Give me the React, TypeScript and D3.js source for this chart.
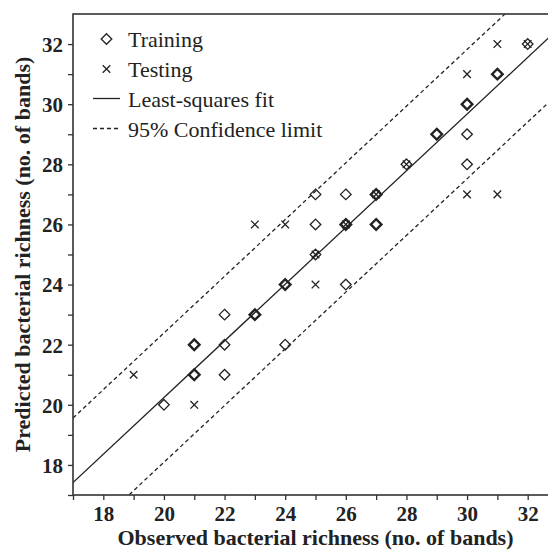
// Scatter of observed vs predicted bacterial richness with least-squares fit and 95% limits
import React, { useEffect, useRef } from 'react';
import * as d3 from 'd3';

// training points (repeated entries = overlapping samples)
const trainObserved = [20, 21, 21, 21, 21, 22, 22, 22, 23, 23, 24, 24, 24, 25, 25, 25, 26, 26, 26, 26, 27, 27, 27, 27, 28, 29, 29, 30, 30, 30, 30, 31, 31, 32];
const trainPredicted = [20, 21, 21, 22, 22, 21, 22, 23, 23, 23, 22, 24, 24, 25, 26, 27, 24, 26, 26, 27, 26, 26, 27, 27, 28, 29, 29, 28, 29, 30, 30, 31, 31, 32];

const testObserved = [19, 21, 23, 24, 25, 25, 26, 27, 28, 30, 30, 31, 31, 32];
const testPredicted = [21, 20, 26, 26, 24, 25, 26, 27, 28, 27, 31, 27, 32, 32];

const fitSlope = 0.943;
const fitIntercept = 1.38;
const confOffset = 2.15;

const xTicks = [17, 18, 19, 20, 21, 22, 23, 24, 25, 26, 27, 28, 29, 30, 31, 32, 33];
const yTicks = [17, 18, 19, 20, 21, 22, 23, 24, 25, 26, 27, 28, 29, 30, 31, 32];

const legendItems = ['Training', 'Testing', 'Least-squares fit', '95% Confidence limit'];

const ink = '#222';
const serif = '"Liberation Serif", "Times New Roman", serif';

const App = () => {
  const svgRef = useRef(null);

  useEffect(() => {
    const width = 548;
    const height = 550;
    const margin = { left: 73, top: 14, right: 558, bottom: 495 };

    const svg = d3.select(svgRef.current);
    svg.selectAll('*').remove();

    const x = d3.scaleLinear().domain([17, 33]).range([margin.left, margin.right]);
    const y = d3.scaleLinear().domain([17, 33]).range([margin.bottom, margin.top]);

    svg.append('clipPath').attr('id', 'plot-clip')
      .append('rect')
      .attr('x', margin.left).attr('y', margin.top)
      .attr('width', margin.right - margin.left).attr('height', margin.bottom - margin.top);

    const plot = svg.append('g').attr('clip-path', 'url(#plot-clip)');

    // fit + confidence lines
    const lineFor = (off) => d3.line()
      .x(d => x(d))
      .y(d => y(fitSlope * d + fitIntercept + off))([17, 33]);

    plot.append('path').attr('d', lineFor(0))
      .attr('stroke', ink).attr('stroke-width', 1.3).attr('fill', 'none');
    [confOffset, -confOffset].forEach(off => {
      plot.append('path').attr('d', lineFor(off))
        .attr('stroke', ink).attr('stroke-width', 1.3).attr('fill', 'none')
        .attr('stroke-dasharray', '4,3');
    });

    // training diamonds, bolder when points overlap
    const trainCounts = d3.rollup(
      trainObserved.map((o, i) => [o, trainPredicted[i]]),
      v => v.length,
      d => `${d[0]},${d[1]}`
    );
    const diamond = (cx, cy, r) => `M${cx},${cy - r}L${cx + r},${cy}L${cx},${cy + r}L${cx - r},${cy}Z`;
    const cross = (cx, cy, r) => `M${cx - r},${cy - r}L${cx + r},${cy + r}M${cx - r},${cy + r}L${cx + r},${cy - r}`;

    Array.from(trainCounts).forEach(([key, n]) => {
      const [o, p] = key.split(',').map(Number);
      plot.append('path').attr('d', diamond(x(o), y(p), 5.3))
        .attr('fill', 'none').attr('stroke', ink)
        .attr('stroke-width', n > 1 ? 2.4 : 1.3);
    });

    testObserved.forEach((o, i) => {
      plot.append('path').attr('d', cross(x(o), y(testPredicted[i]), 3.8))
        .attr('fill', 'none').attr('stroke', ink).attr('stroke-width', 1.3);
    });

    // frame
    svg.append('rect')
      .attr('x', margin.left).attr('y', margin.top)
      .attr('width', margin.right - margin.left).attr('height', margin.bottom - margin.top)
      .attr('fill', 'none').attr('stroke', '#333').attr('stroke-width', 1.6);

    // axes
    const xAxis = svg.append('g').attr('transform', `translate(0,${margin.bottom})`)
      .call(d3.axisBottom(x).tickValues(xTicks).tickSize(5)
        .tickFormat(d => (d % 2 === 0 && d < 33 ? String(d) : '')));
    const yAxis = svg.append('g').attr('transform', `translate(${margin.left},0)`)
      .call(d3.axisLeft(y).tickValues(yTicks).tickSize(5)
        .tickFormat(d => (d % 2 === 0 ? String(d) : '')));

    [xAxis, yAxis].forEach(g => {
      g.select('.domain').remove();
      g.selectAll('line').attr('stroke', '#333').attr('stroke-width', 1.3);
      g.selectAll('text').attr('fill', ink)
        .style('font-family', serif).style('font-size', '21px').style('font-weight', 'bold');
    });
    xAxis.selectAll('text').attr('dy', null).attr('y', 26);
    yAxis.selectAll('text').attr('dy', '0.35em').attr('x', -10);

    svg.append('text')
      .attr('x', (margin.left + margin.right) / 2).attr('y', 545)
      .attr('text-anchor', 'middle').attr('fill', ink)
      .style('font-family', serif).style('font-size', '22px').style('font-weight', 'bold')
      .text('Observed bacterial richness (no. of bands)');

    svg.append('text')
      .attr('transform', `translate(30,${(margin.top + margin.bottom) / 2}) rotate(-90)`)
      .attr('text-anchor', 'middle').attr('fill', ink)
      .style('font-family', serif).style('font-size', '22px').style('font-weight', 'bold')
      .text('Predicted bacterial richness (no. of bands)');

    // legend
    const legend = svg.append('g');
    legendItems.forEach((label, i) => {
      const cy = 39 + i * 30;
      if (i === 0) {
        legend.append('path').attr('d', diamond(106.5, cy, 5.3))
          .attr('fill', 'none').attr('stroke', ink).attr('stroke-width', 1.3);
      } else if (i === 1) {
        legend.append('path').attr('d', cross(106.5, cy, 3.8))
          .attr('fill', 'none').attr('stroke', ink).attr('stroke-width', 1.3);
      } else {
        legend.append('line')
          .attr('x1', 93).attr('x2', 120).attr('y1', cy - 0.5).attr('y2', cy - 0.5)
          .attr('stroke', ink).attr('stroke-width', 1.3)
          .attr('stroke-dasharray', i === 3 ? '4,3' : null);
      }
      legend.append('text')
        .attr('x', 128).attr('y', cy + 7.5).attr('fill', ink)
        .style('font-family', serif).style('font-size', '22px')
        .text(label);
    });

    svg.attr('width', width).attr('height', height);
  }, []);

  return (
    <svg ref={svgRef} width={548} height={550}
      style={{ position: 'absolute', left: 0, top: 0, background: '#fff' }} />
  );
};

export default App;
